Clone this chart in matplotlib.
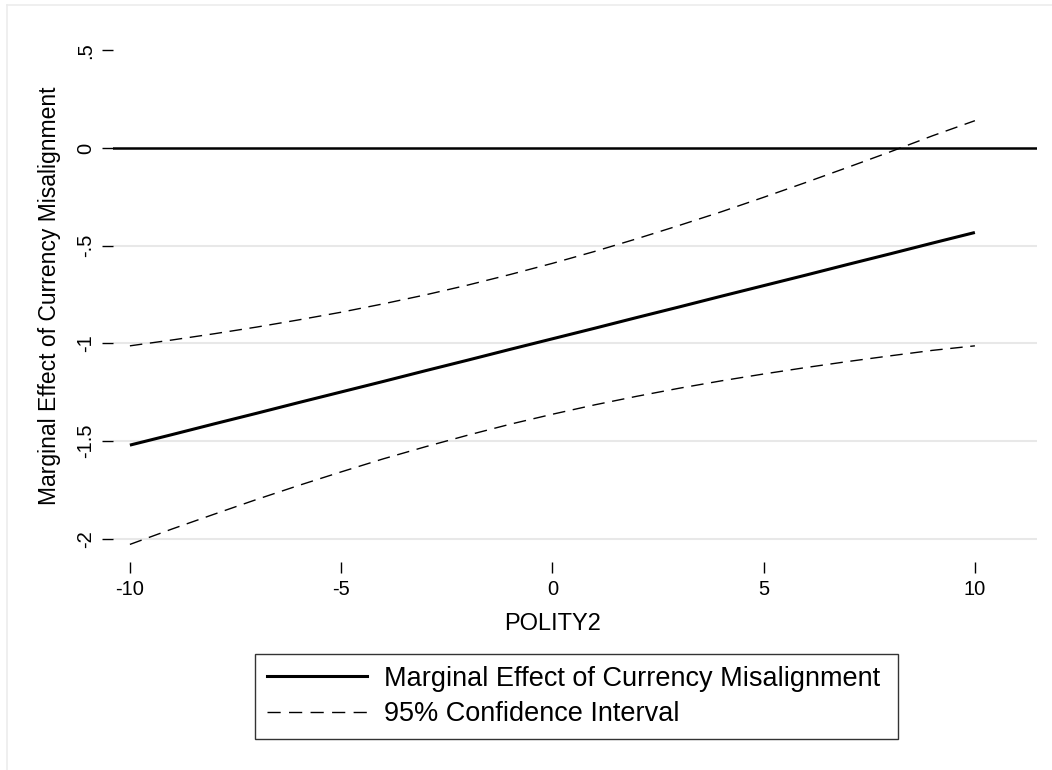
import matplotlib
matplotlib.use("Agg")
import matplotlib.pyplot as plt
from matplotlib.lines import Line2D

# POLITY2 score and the estimated marginal effect with its 95% bounds
polity2 = [-10, -9, -8, -7, -6, -5, -4, -3, -2, -1, 0,
           1, 2, 3, 4, 5, 6, 7, 8, 9, 10]
marginal_effect = [-1.520, -1.466, -1.411, -1.357, -1.302, -1.248, -1.194,
                   -1.139, -1.085, -1.030, -0.976, -0.922, -0.867, -0.813,
                   -0.758, -0.704, -0.650, -0.595, -0.541, -0.486, -0.432]
ci_upper = [-1.012, -0.982, -0.950, -0.916, -0.879, -0.840, -0.797, -0.751,
            -0.701, -0.647, -0.590, -0.529, -0.464, -0.396, -0.326, -0.252,
            -0.176, -0.098, -0.019, 0.063, 0.140]
ci_lower = [-2.028, -1.949, -1.873, -1.798, -1.726, -1.657, -1.590, -1.528,
            -1.469, -1.413, -1.362, -1.314, -1.270, -1.229, -1.191, -1.156,
            -1.123, -1.092, -1.063, -1.035, -1.012]

x_ticks = [-10, -5, 0, 5, 10]
y_ticks = [-2, -1.5, -1, -0.5, 0, 0.5]
y_tick_labels = ["-2", "-1.5", "-1", "-.5", "0", ".5"]
grid_levels = [-2, -1.5, -1, -0.5]

x_title = "POLITY2"
y_title = "Marginal Effect of Currency Misalignment"
legend_labels = ["Marginal Effect of Currency Misalignment",
                 "95% Confidence Interval"]

plt.rcParams["font.family"] = ["Liberation Sans", "DejaVu Sans"]

W, H = 1052, 770
fig = plt.figure(figsize=(W / 100, H / 100), dpi=100)
fig.patch.set_facecolor("white")

# thin outer frame lines (top and left)
fig.add_artist(Line2D([7 / W, 1], [1 - 5 / H, 1 - 5 / H],
                      transform=fig.transFigure, color="#ececec", lw=1.2))
fig.add_artist(Line2D([7 / W, 7 / W], [0, 1 - 5 / H],
                      transform=fig.transFigure, color="#ececec", lw=1.2))

left, right, top, bottom = 113, 1037, 30, 562
ax = fig.add_axes([left / W, 1 - bottom / H, (right - left) / W,
                   (bottom - top) / H])
ax.set_xlim(-10.40, 11.47)
ax.set_ylim(-2.118, 0.604)

for s in ax.spines.values():
    s.set_visible(False)

for g in grid_levels:
    ax.axhline(g, color="#e8e8e8", lw=1.5, zorder=1)
ax.axhline(0, color="black", lw=1.8, zorder=2)

dash = (9, 5.5)
ax.plot(polity2, marginal_effect, color="black", lw=2.2,
        solid_capstyle="butt", zorder=3)
l_up, = ax.plot(polity2, ci_upper, color="black", lw=1.0, zorder=3)
l_lo, = ax.plot(polity2, ci_lower, color="black", lw=1.0, zorder=3)
l_up.set_dashes(dash)
l_lo.set_dashes(dash)

ax.set_xticks(x_ticks)
ax.set_xticklabels([str(v) for v in x_ticks])
ax.set_yticks(y_ticks)
ax.set_yticklabels(y_tick_labels, rotation=90, va="center")
ax.tick_params(axis="both", direction="out", length=8, width=1.0,
               color="black", labelsize=14.5)
ax.tick_params(axis="x", pad=5)
ax.tick_params(axis="y", pad=5)

ax.set_xlabel(x_title, fontsize=17, labelpad=10)
ax.xaxis.label.set_x((553 - left) / (right - left))
ax.set_ylabel(y_title, fontsize=16.5, labelpad=11)

handles = [Line2D([], [], color="black", lw=2.2),
           Line2D([], [], color="black", lw=1.0, dashes=(9.5, 6))]
lx0, lx1, ly0, ly1 = 255, 898, 652, 741
leg = fig.legend(handles, legend_labels,
                 bbox_to_anchor=(lx0 / W, 1 - ly1 / H, (lx1 - lx0) / W,
                                 (ly1 - ly0) / H),
                 loc="center", mode="expand", fontsize=19.5, frameon=True,
                 fancybox=False, shadow=False, handlelength=3.7,
                 handletextpad=0.6, borderpad=0.45, labelspacing=0.35,
                 borderaxespad=0)
leg.get_frame().set_edgecolor("black")
leg.get_frame().set_linewidth(1.0)

fig.savefig("out.png", dpi=100, facecolor="white")
